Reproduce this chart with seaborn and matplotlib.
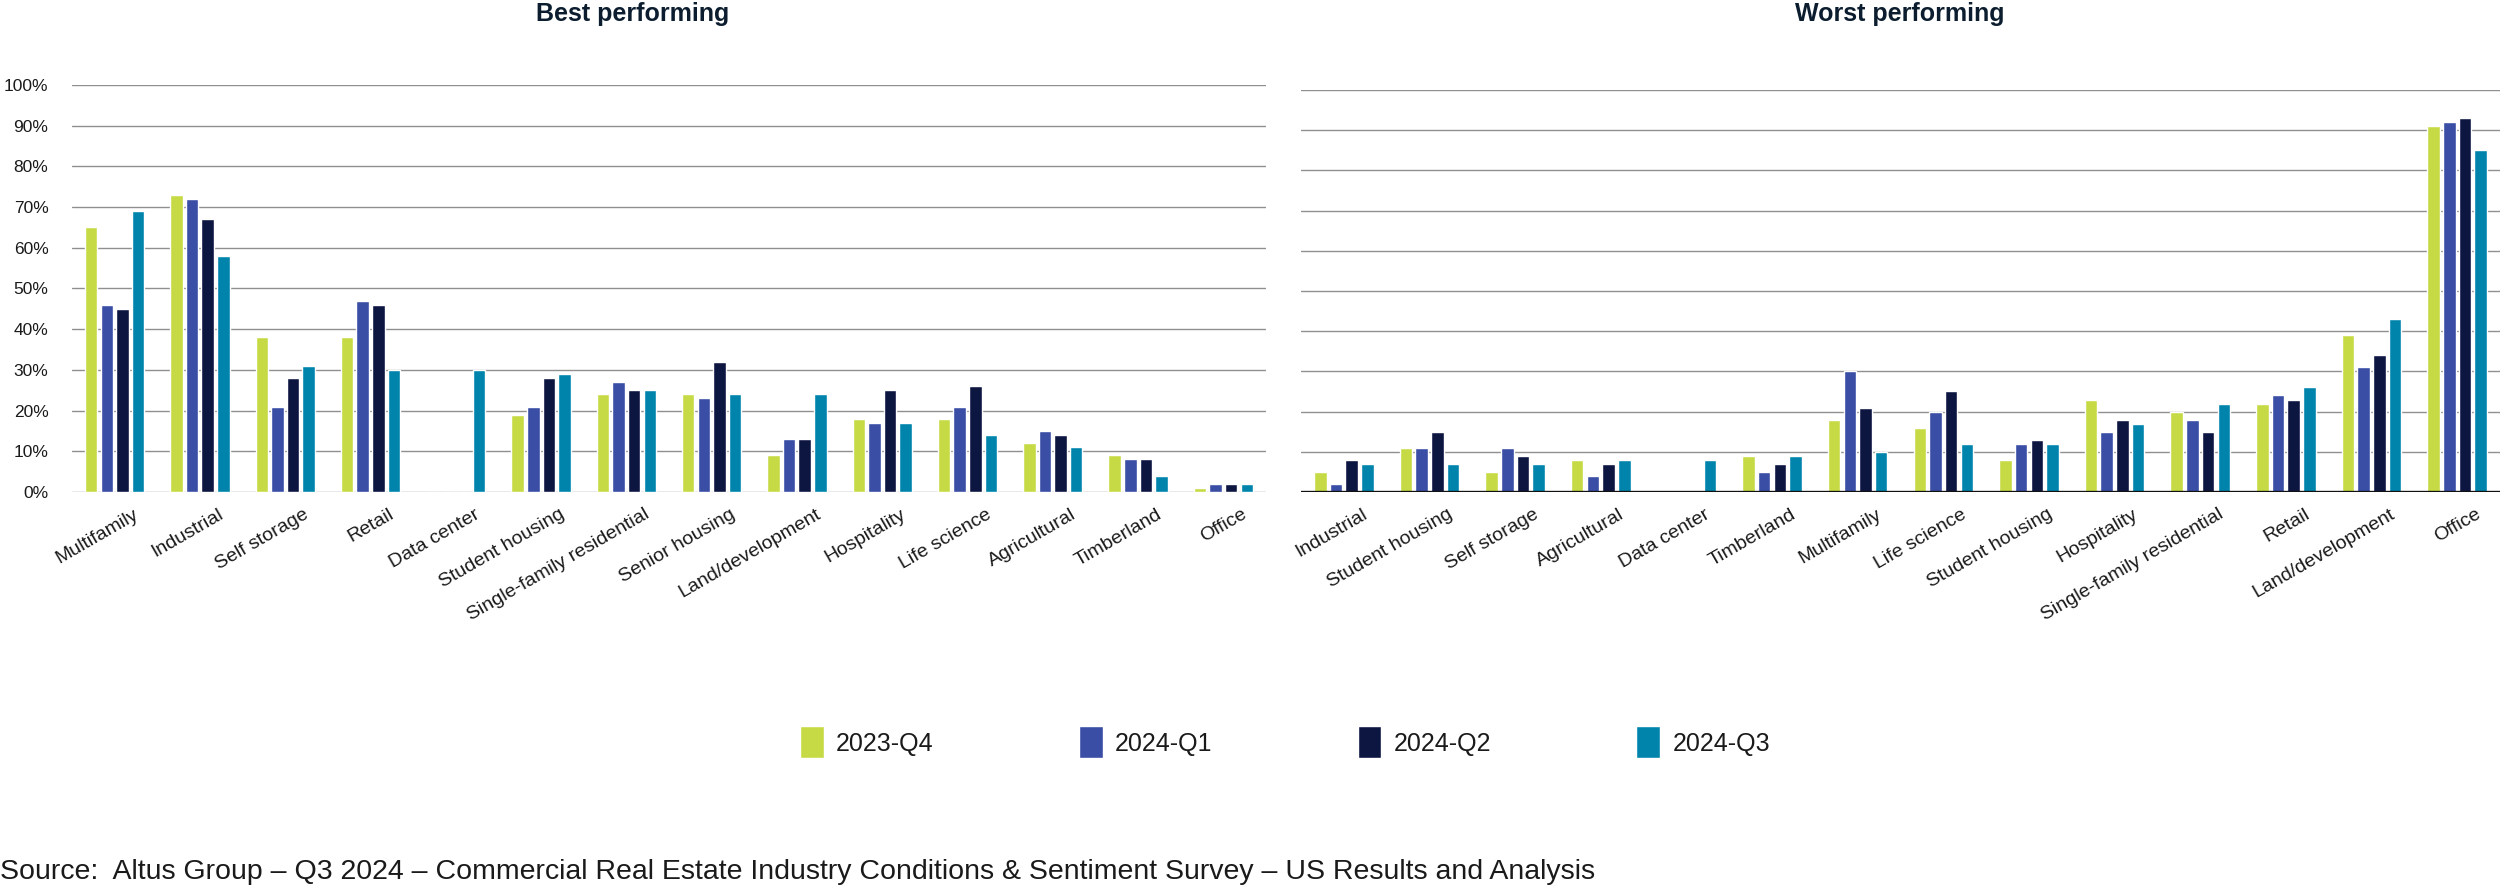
import pandas as pd
import numpy as np
import matplotlib.pyplot as plt
import matplotlib.transforms as mtransforms
import seaborn as sns

# --- chart data (percent of respondents) ---
periods = ["2023-Q4", "2024-Q1", "2024-Q2", "2024-Q3"]
colors = ["#C6DA46", "#3A4EA5", "#0D1641", "#0084AC"]

best_categories = ["Multifamily", "Industrial", "Self storage", "Retail", "Data center",
                   "Student housing", "Single-family residential", "Senior housing",
                   "Land/development", "Hospitality", "Life science", "Agricultural",
                   "Timberland", "Office"]
best_2023_q4 = [65, 73, 38, 38, 0, 19, 24, 24, 9, 18, 18, 12, 9, 1]
best_2024_q1 = [46, 72, 21, 47, 0, 21, 27, 23, 13, 17, 21, 15, 8, 2]
best_2024_q2 = [45, 67, 28, 46, 0, 28, 25, 32, 13, 25, 26, 14, 8, 2]
best_2024_q3 = [69, 58, 31, 30, 30, 29, 25, 24, 24, 17, 14, 11, 4, 2]

worst_categories = ["Industrial", "Student housing", "Self storage", "Agricultural",
                    "Data center", "Timberland", "Multifamily", "Life science",
                    "Student housing", "Hospitality", "Single-family residential",
                    "Retail", "Land/development", "Office"]
worst_2023_q4 = [5, 11, 5, 8, 0, 9, 18, 16, 8, 23, 20, 22, 39, 91]
worst_2024_q1 = [2, 11, 11, 4, 0, 5, 30, 20, 12, 15, 18, 24, 31, 92]
worst_2024_q2 = [8, 15, 9, 7, 0, 7, 21, 25, 13, 18, 15, 23, 34, 93]
worst_2024_q3 = [7, 7, 7, 8, 8, 9, 10, 12, 12, 17, 22, 26, 43, 85]

y_ticks = [0, 10, 20, 30, 40, 50, 60, 70, 80, 90, 100]
y_tick_labels = [f"{t}%" for t in y_ticks]

TEXT = "#1a1a1a"
GRID = "#8f8f8f"


def to_long(categories, series):
    # categories may repeat (e.g. "Student housing"), so key rows by position
    rows = []
    for period, values in zip(periods, series):
        for i, v in enumerate(values):
            rows.append({"key": str(i), "period": period, "value": v})
    return pd.DataFrame(rows)


best_df = to_long(best_categories, [best_2023_q4, best_2024_q1, best_2024_q2, best_2024_q3])
worst_df = to_long(worst_categories, [worst_2023_q4, worst_2024_q1, worst_2024_q2, worst_2024_q3])

sns.set_theme(style="white")
plt.rcParams["font.family"] = ["Liberation Sans", "DejaVu Sans"]

fig = plt.figure(figsize=(25, 8.89), dpi=100)
ax1 = fig.add_axes([0.0288, 0.4466, 0.4776, 0.4578])
ax2 = fig.add_axes([0.5204, 0.4466, 0.4796, 0.4522])

# shift rotated category labels a little to the right, like the original
label_shift = mtransforms.ScaledTranslation(0.18, 0, fig.dpi_scale_trans)


def draw_panel(ax, df, categories, show_legend):
    sns.barplot(data=df, x="key", y="value", hue="period",
                order=[str(i) for i in range(len(categories))],
                hue_order=periods, palette=colors, saturation=1,
                width=0.733, gap=0.2, errorbar=None, ax=ax,
                legend=show_legend, zorder=3)
    ax.set_xlim(-0.5, len(categories) - 0.5)
    ax.set_ylim(0, 100)
    ax.set_yticks(y_ticks)
    ax.yaxis.grid(True, color=GRID, linewidth=1.0, zorder=0)
    ax.set_axisbelow(True)
    for s in ax.spines.values():
        s.set_visible(False)
    ax.set_xlabel("")
    ax.set_ylabel("")
    ax.tick_params(axis="x", length=0, pad=10)
    ax.tick_params(axis="y", length=0, pad=17, labelsize=12.5, labelcolor=TEXT)
    ax.set_xticks(range(len(categories)))
    ax.set_xticklabels(categories, rotation=30, ha="right",
                       rotation_mode="anchor", fontsize=14, color=TEXT)
    # tick_params resets transforms, so do the shift last
    for lbl in ax.get_xticklabels():
        lbl.set_transform(lbl.get_transform() + label_shift)


draw_panel(ax1, best_df, best_categories, True)
draw_panel(ax2, worst_df, worst_categories, False)

ax1.set_yticklabels(y_tick_labels)
ax2.set_yticklabels([])
# dark baseline on the right panel
ax2.axhline(0, color="#111111", linewidth=2.4, zorder=4)

# legend for the whole figure
handles, labels = ax1.get_legend_handles_labels()
ax1.get_legend().remove()
fig.legend(handles, labels, loc="center", bbox_to_anchor=(0.514, 0.165), ncol=4,
           frameon=False, fontsize=18, handlelength=0.95, handleheight=1.6,
           handletextpad=0.5, columnspacing=5.8, labelcolor=TEXT)

fig.text(0.2532, 0.998, "Best performing", ha="center", va="top",
         fontsize=18, fontweight="bold", color="#0b1d2e")
fig.text(0.76, 0.998, "Worst performing", ha="center", va="top",
         fontsize=18, fontweight="bold", color="#0b1d2e")

fig.text(0.0, 0.019, "Source:  Altus Group – Q3 2024 – Commercial Real Estate Industry "
         "Conditions & Sentiment Survey – US Results and Analysis",
         ha="left", va="center", fontsize=20.5, color=TEXT)

fig.savefig("out.png", dpi=100)
